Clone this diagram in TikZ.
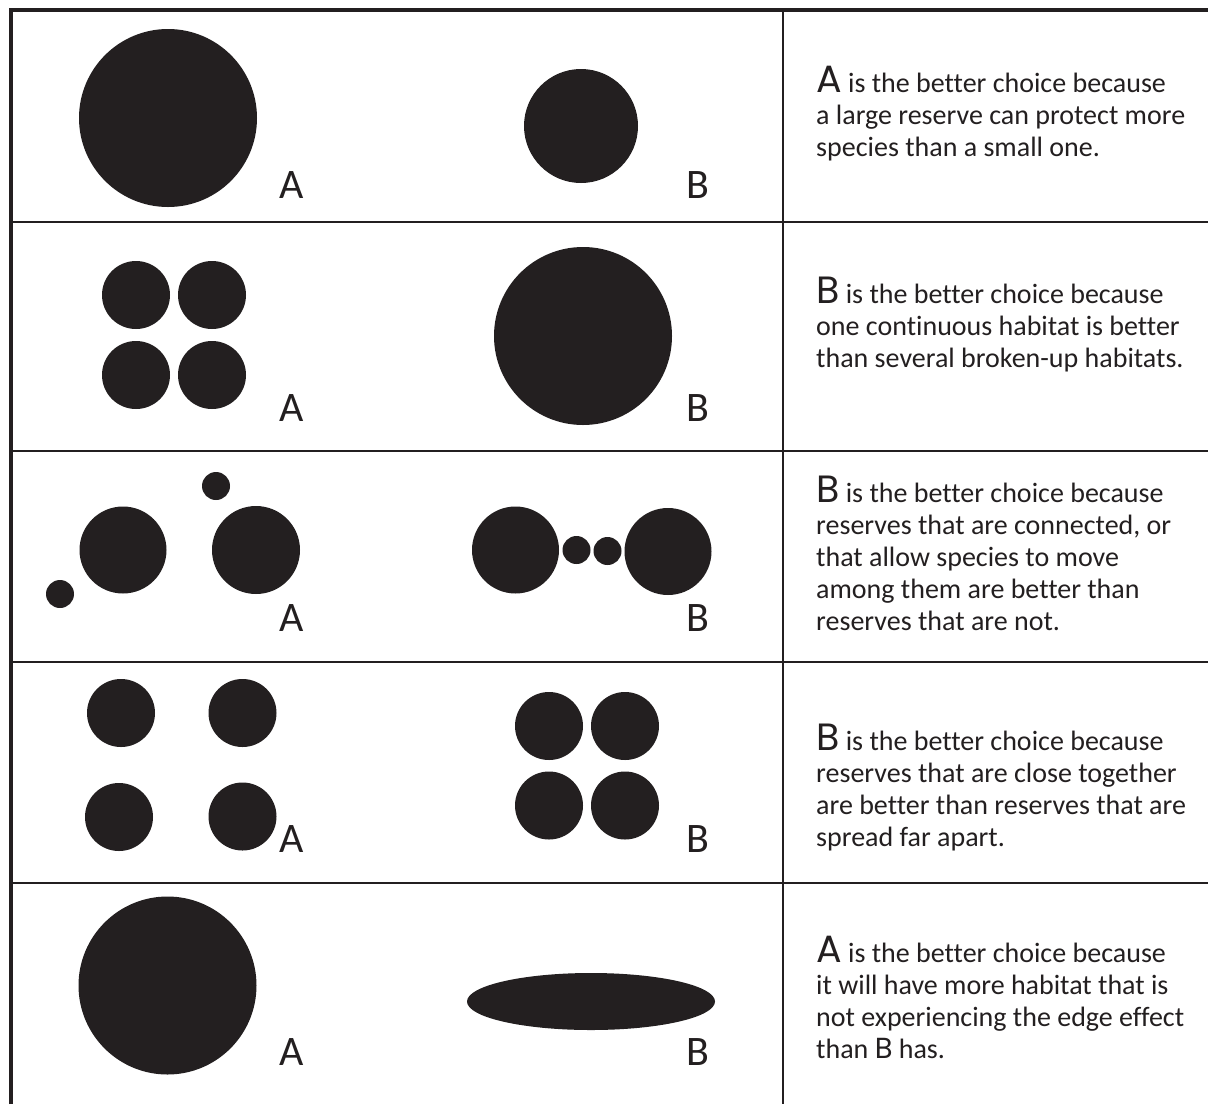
\documentclass[tikz,border=0pt]{standalone}
\usepackage{fontspec}
\usepackage{tikz}
\usepackage{xcolor}
\usetikzlibrary{positioning}
\setmainfont{Carlito}[Ligatures=NoCommon]
\newfontfamily\initfont{Poppins}
\definecolor{inkblack}{HTML}{231F20}
\definecolor{paper}   {HTML}{FFFFFF}
\newcommand{\choiceletter}[1]{{\initfont\fontsize{38}{32}\selectfont #1}}
\newcommand{\inlineletter}[1]{{\initfont\fontsize{29}{32}\selectfont #1}}
\tikzset{
  reserve/.style   ={fill=inkblack, draw=none},
  frameline/.style ={draw=inkblack, line width=4.2pt, line join=miter},
  rowline/.style   ={draw=inkblack, line width=2.6pt},
  tag/.style       ={anchor=base, inner sep=0pt, text=inkblack,
                     font=\fontsize{42}{42}\selectfont},
  note/.style      ={anchor=base west, inner sep=0pt, align=left, text=inkblack,
                     font=\fontsize{28}{32}\selectfont},
}

\begin{document}
\begin{tikzpicture}[x=1pt,y=-1pt]
    \useasboundingbox[fill=paper] (0,0) rectangle (1208,1104);

    \draw[rowline] (11,222) -- (1208,222);
    \draw[rowline] (11,451) -- (1208,451);
    \draw[rowline] (11,662) -- (1208,662);
    \draw[rowline] (11,883) -- (1208,883);
    \draw[rowline] (783,10) -- (783,1104);
    \draw[frameline] (11,1104) -- (11,10) -- (1208,10);

    \fill[reserve] (168,118) circle (89pt);
    \fill[reserve] (581,126) circle (57pt);
    \node[tag] (tagA1) at (291.5,198) {A};
    \node[tag] (tagB1) at (698,198) {B};

    \fill[reserve] (136,295) circle (34pt);
    \fill[reserve] (212,295) circle (34pt);
    \fill[reserve] (136,375) circle (34pt);
    \fill[reserve] (212,375) circle (34pt);
    \fill[reserve] (583,336) circle (89pt);
    \node[tag] (tagA2) at (291.5,421) {A};
    \node[tag] (tagB2) at (698,421) {B};

    \fill[reserve] (60,594)  circle (14pt);
    \fill[reserve] (123,550) circle (43.5pt);
    \fill[reserve] (216,486) circle (14pt);
    \fill[reserve] (256,550) circle (44pt);
    \fill[reserve] (515.5,550) circle (43.5pt);
    \fill[reserve] (576.5,550) circle (14pt);
    \fill[reserve] (607.5,551) circle (14pt);
    \fill[reserve] (668,551.5) circle (43.5pt);
    \node[tag] (tagA3) at (291.5,631) {A};
    \node[tag] (tagB3) at (698,631) {B};

    \fill[reserve] (121,713)   circle (34pt);
    \fill[reserve] (242.5,713) circle (34pt);
    \fill[reserve] (119,817)   circle (34pt);
    \fill[reserve] (242.5,816.5) circle (34pt);
    \fill[reserve] (549,726)   circle (34pt);
    \fill[reserve] (625,726)   circle (34pt);
    \fill[reserve] (549,805.5) circle (34pt);
    \fill[reserve] (625,805.5) circle (34pt);
    \node[tag] (tagA4) at (291.5,852) {A};
    \node[tag] (tagB4) at (698,852) {B};

    \fill[reserve] (167.5,985.5) circle (89pt);
    \fill[reserve] (591,1001.5) ellipse [x radius=124pt, y radius=28.5pt];
    \node[tag] (tagA5) at (291.5,1065) {A};
    \node[tag] (tagB5) at (698,1065) {B};

    \node[note] (why1) at (816,156)  {\choiceletter{A} is the better choice because\\a large reserve can protect more\\species than a small one.};
    \node[note] (why2) at (816,367)  {\choiceletter{B} is the better choice because\\one continuous habitat is better\\than several broken-up habitats.};
    \node[note] (why3) at (816,630)  {\choiceletter{B} is the better choice because\\reserves that are connected, or\\that allow species to move\\among them are better than\\reserves that are not.};
    \node[note] (why4) at (816,846)  {\choiceletter{B} is the better choice because\\reserves that are close together\\are better than reserves that are\\spread far apart.};
    \node[note] (why5) at (816,1058) {\choiceletter{A} is the better choice because\\it will have more habitat that is\\not experiencing the edge effect\\than \inlineletter{B} has.};
  \end{tikzpicture}
\end{document}
